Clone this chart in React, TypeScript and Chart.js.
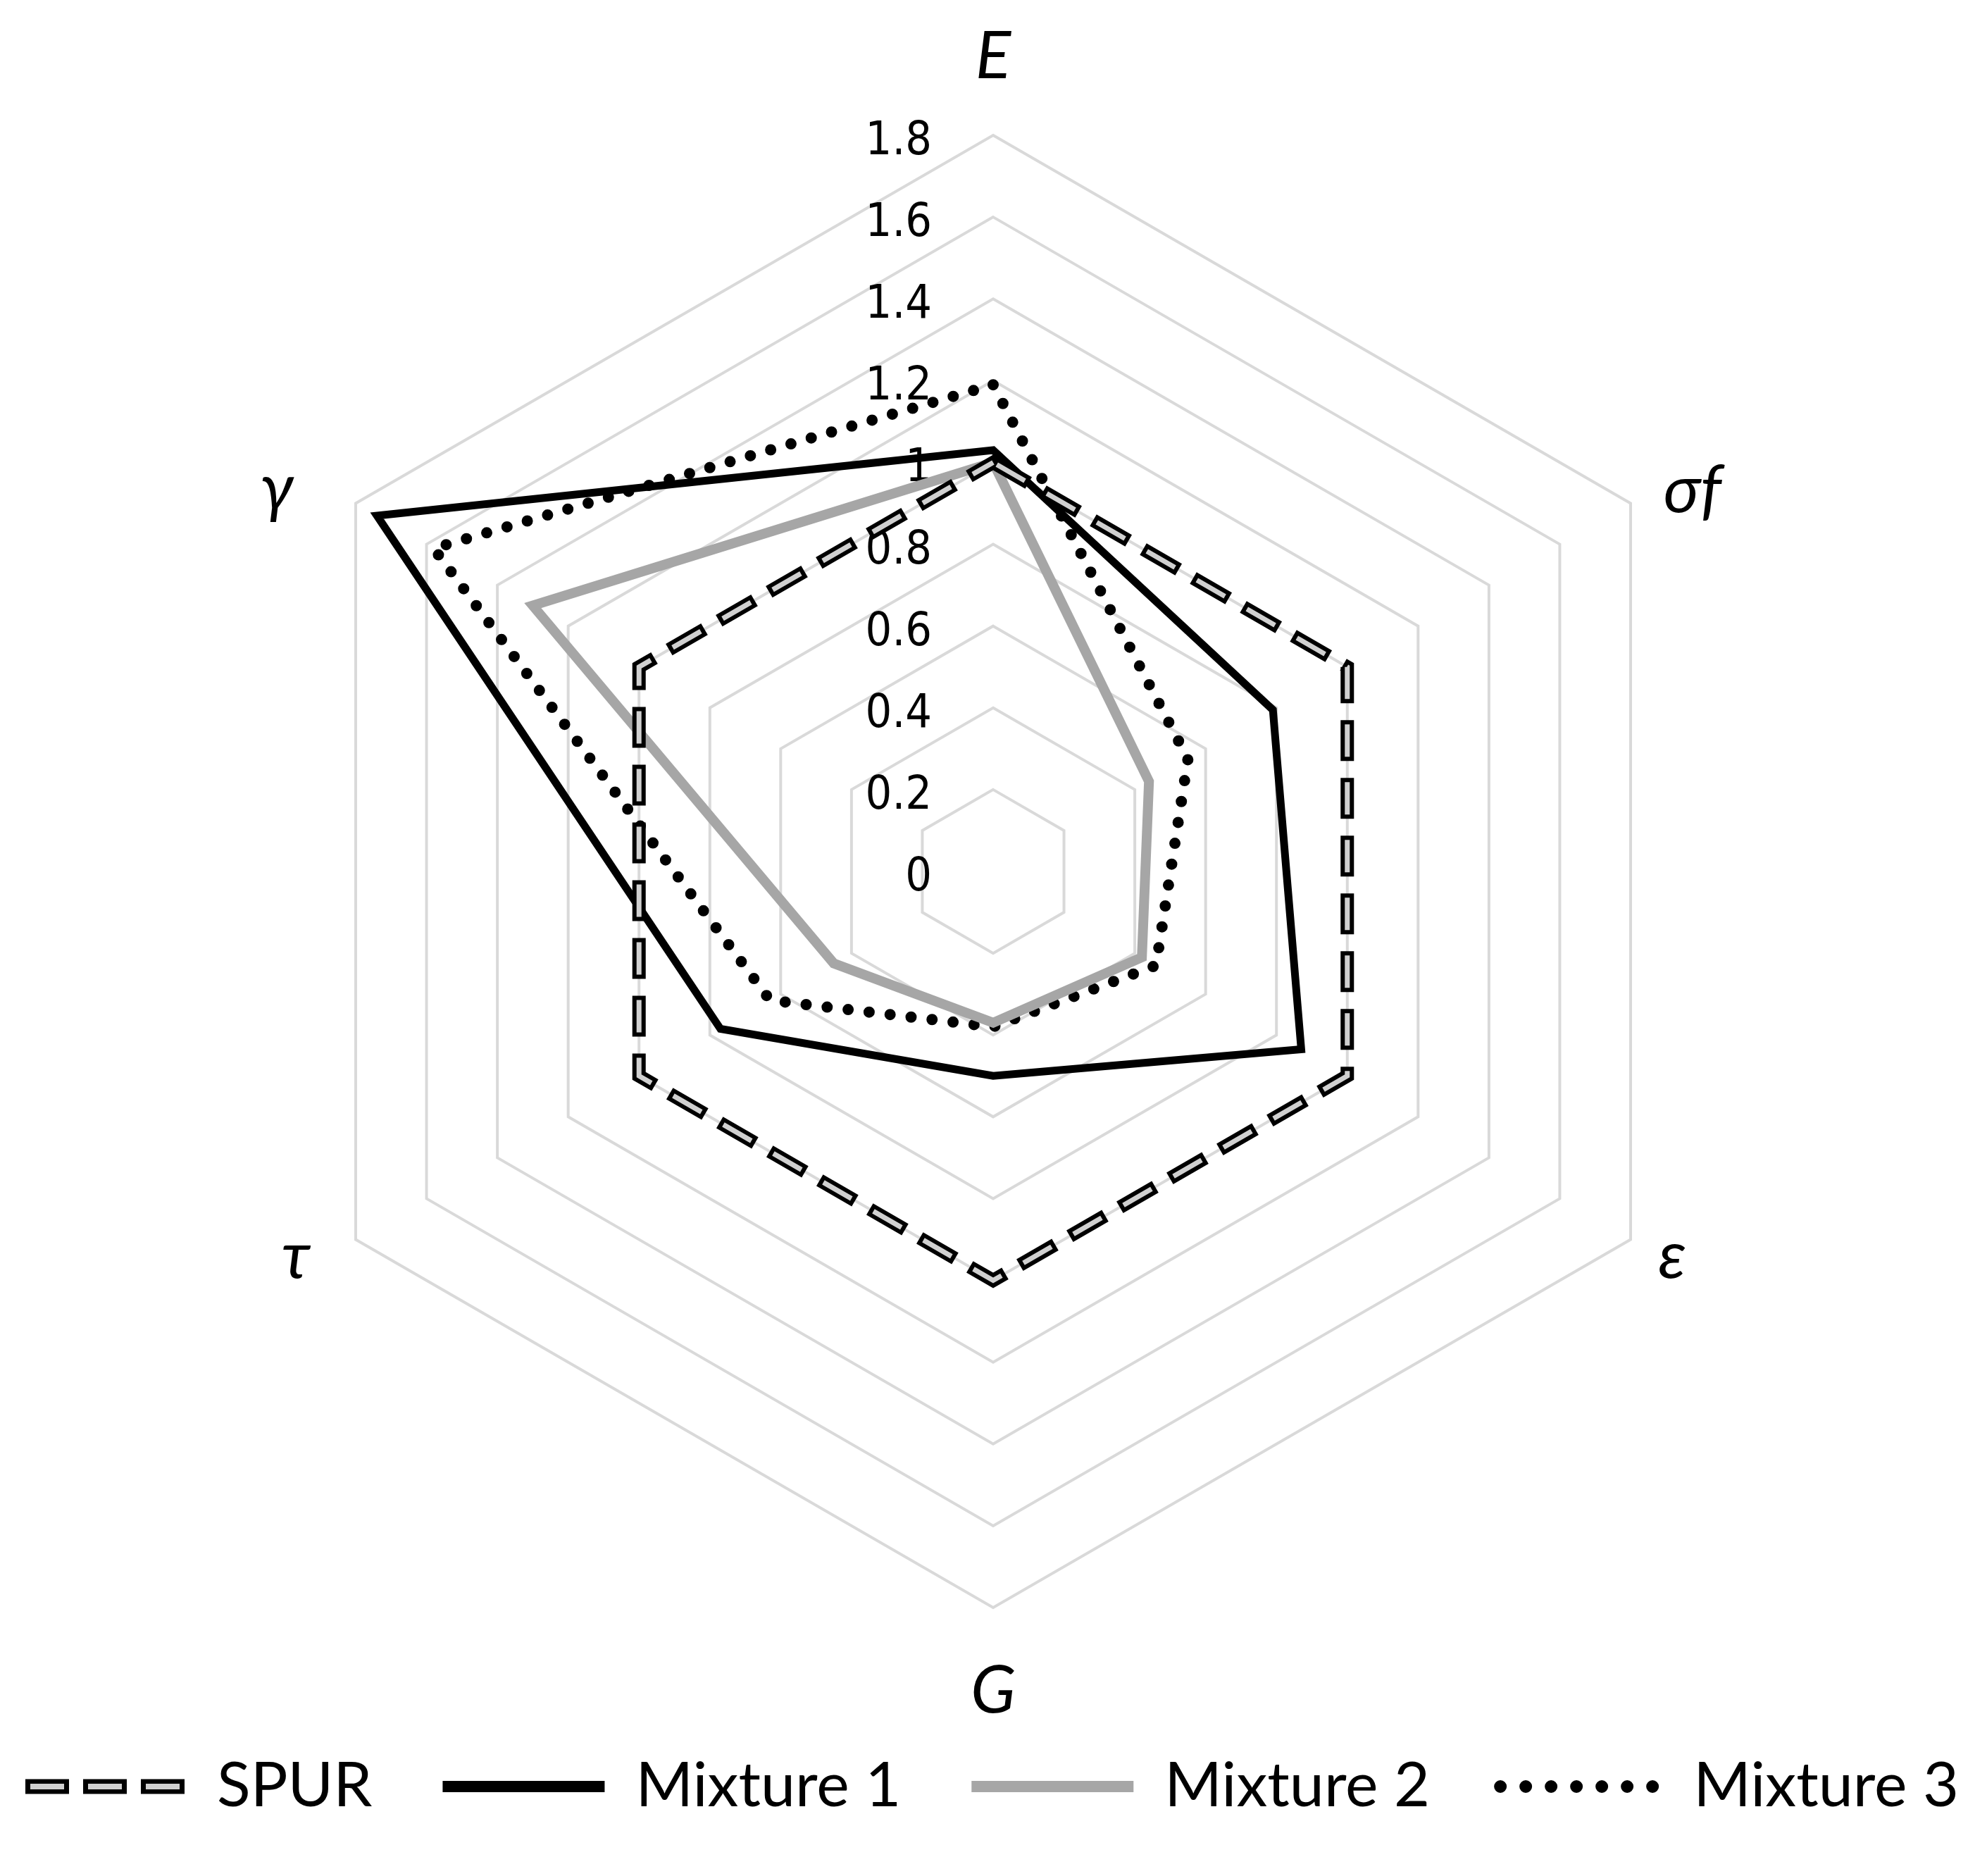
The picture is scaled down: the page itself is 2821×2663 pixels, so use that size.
import React, { useEffect, useRef } from 'react';
import { Chart, registerables } from 'chart.js';

Chart.register(...registerables);

// ---------- data ----------
const axisLabels = ['E', 'σf', 'ε', 'G', 'τ', 'γ'];
const spurValues = [1.0, 1.0, 1.0, 1.0, 1.0, 1.0];
const mixture1Values = [1.03, 0.79, 0.87, 0.5, 0.77, 1.74];
const mixture2Values = [1.0, 0.44, 0.42, 0.37, 0.45, 1.3];
const mixture3Values = [1.19, 0.55, 0.46, 0.38, 0.63, 1.58];
const tickValues = [0, 0.2, 0.4, 0.6, 0.8, 1, 1.2, 1.4, 1.6, 1.8];
const tickLabels = ['0', '0.2', '0.4', '0.6', '0.8', '1', '1.2', '1.4', '1.6', '1.8'];
const seriesNames = ['SPUR', 'Mixture 1', 'Mixture 2', 'Mixture 3'];

// ---------- styling / layout ----------
const CANVAS_W = 2805;
const CANVAS_H = 2647;
const LABEL_FONT = 'italic 94px Lato, "Open Sans", "Noto Sans", sans-serif';
const TICK_FONT = '66px "DejaVu Sans Condensed", "DejaVu Sans", sans-serif';
// [dx from vertex to text centre, dy from vertex to baseline]
const labelOffsets: [number, number][] = [
  [0, -81],
  [88, 12],
  [59, 54],
  [0, 149],
  [-85, 54],
  [-112, 10],
];

function makeSpurLegendSymbol(): HTMLCanvasElement {
  const c = document.createElement('canvas');
  c.width = 226;
  c.height = 30;
  const g = c.getContext('2d')!;
  g.lineCap = 'butt';
  g.strokeStyle = '#000';
  g.lineWidth = 21;
  g.setLineDash([62, 20]);
  g.beginPath();
  g.moveTo(0, 15);
  g.lineTo(226, 15);
  g.stroke();
  g.strokeStyle = '#d0d0d0';
  g.lineWidth = 8;
  g.setLineDash([48, 34]);
  g.lineDashOffset = -7;
  g.beginPath();
  g.moveTo(0, 15);
  g.lineTo(226, 15);
  g.stroke();
  return c;
}

const textPlugin = {
  id: 'radarTexts',
  beforeDatasetsDraw(chart: any) {
    const s = chart.scales.r;
    const ctx = chart.ctx as CanvasRenderingContext2D;
    ctx.save();
    ctx.font = TICK_FONT;
    ctx.fillStyle = '#000';
    ctx.textAlign = 'right';
    ctx.textBaseline = 'alphabetic';
    tickValues.forEach((v, i) => {
      const d = s.getDistanceFromCenterForValue(v);
      ctx.fillText(tickLabels[i], s.xCenter - 87, s.yCenter - d + 27);
    });
    ctx.restore();
  },
  afterDraw(chart: any) {
    const s = chart.scales.r;
    const ctx = chart.ctx as CanvasRenderingContext2D;
    ctx.save();
    ctx.font = LABEL_FONT;
    ctx.fillStyle = '#000';
    ctx.textAlign = 'center';
    ctx.textBaseline = 'alphabetic';
    axisLabels.forEach((lab, i) => {
      const p = s.getPointPosition(i, s.drawingArea);
      const [dx, dy] = labelOffsets[i];
      ctx.fillText(lab, p.x + dx, p.y + dy);
    });
    ctx.restore();
  },
};

export default function App() {
  const ref = useRef<HTMLCanvasElement>(null);

  useEffect(() => {
    if (!ref.current) return;
    const spurSymbol = makeSpurLegendSymbol();
    const chart = new Chart(ref.current, {
      type: 'radar',
      data: {
        labels: axisLabels,
        datasets: [
          {
            label: 'SPUR-core',
            data: spurValues,
            borderColor: '#d0d0d0',
            borderWidth: 7,
            borderDash: [46, 36],
            borderDashOffset: -6,
            backgroundColor: 'transparent',
            fill: false,
            pointRadius: 0,
            order: 0,
          },
          {
            label: seriesNames[0],
            data: spurValues,
            borderColor: '#000000',
            borderWidth: 19,
            borderDash: [58, 24],
            backgroundColor: 'transparent',
            fill: false,
            pointRadius: 0,
            order: 1,
          },
          {
            label: seriesNames[1],
            data: mixture1Values,
            borderColor: '#000000',
            borderWidth: 11,
            backgroundColor: 'transparent',
            fill: false,
            pointRadius: 0,
            order: 2,
          },
          {
            label: seriesNames[2],
            data: mixture2Values,
            borderColor: '#a6a6a6',
            borderWidth: 14,
            backgroundColor: 'transparent',
            fill: false,
            pointRadius: 0,
            order: 3,
          },
          {
            label: seriesNames[3],
            data: mixture3Values,
            borderColor: '#000000',
            borderWidth: 16,
            borderDash: [0, 30],
            borderCapStyle: 'round',
            backgroundColor: 'transparent',
            fill: false,
            pointRadius: 0,
            order: 4,
          },
        ],
      },
      options: {
        responsive: false,
        animation: false,
        devicePixelRatio: 1,
        layout: { padding: { top: 184, bottom: 65, left: -100, right: -94 } },
        elements: { line: { tension: 0 } },
        scales: {
          r: {
            min: 0,
            max: 1.8,
            ticks: { stepSize: 0.2, display: false },
            grid: { color: '#d9d9d9', lineWidth: 4, circular: false },
            angleLines: { display: false },
            pointLabels: { display: false },
          },
        },
        plugins: {
          tooltip: { enabled: false },
          legend: {
            position: 'bottom',
            title: { display: true, text: ' ', font: { size: 10 }, padding: { top: 98, bottom: 0 } },
            labels: {
              usePointStyle: true,
              pointStyleWidth: 230,
              padding: 100,
              color: '#000',
              font: { family: 'Lato, "Open Sans", sans-serif', size: 88 },
              filter: (item: any) => item.datasetIndex !== 0,
              generateLabels: (c: any) => {
                const items = Chart.defaults.plugins.legend.labels.generateLabels(c);
                return items.map((it: any) => {
                  const ds = c.data.datasets[it.datasetIndex];
                  if (it.datasetIndex === 1) {
                    return { ...it, pointStyle: spurSymbol, lineWidth: 0 };
                  }
                  if (it.datasetIndex === 4) {
                    return {
                      ...it,
                      pointStyle: 'line',
                      strokeStyle: ds.borderColor,
                      lineWidth: 18,
                      lineDash: [0, 36],
                      lineCap: 'round',
                    };
                  }
                  return {
                    ...it,
                    pointStyle: 'line',
                    strokeStyle: ds.borderColor,
                    lineWidth: 16,
                    lineDash: [],
                    lineCap: 'butt',
                  };
                });
              },
            },
          },
        },
      },
      plugins: [textPlugin],
    } as any);
    return () => chart.destroy();
  }, []);

  return <canvas ref={ref} width={CANVAS_W} height={CANVAS_H} style={{ display: 'block' }} />;
}
